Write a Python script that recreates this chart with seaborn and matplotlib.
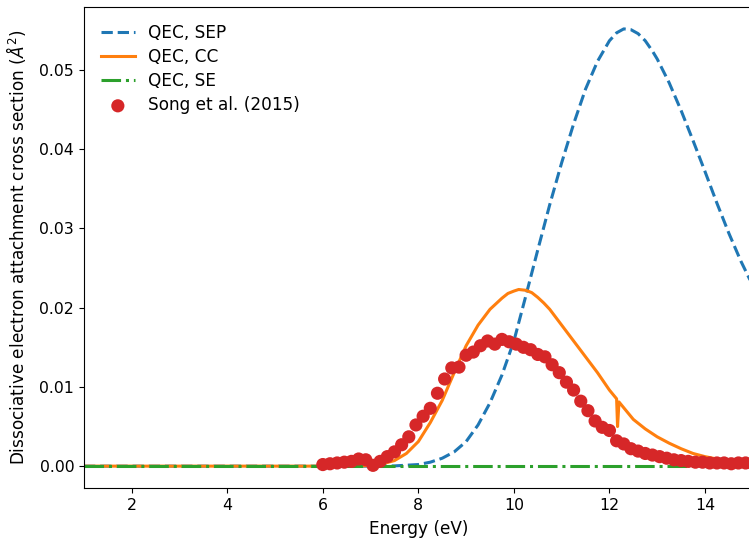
import matplotlib
matplotlib.use("Agg")
import matplotlib.pyplot as plt
import seaborn as sns

# ---- data ----
sep_x = [1.0, 7.0, 7.5, 8.0, 8.25, 8.5, 8.75, 9.0, 9.25, 9.5, 9.75, 10.0, 10.25,
         10.5, 10.75, 11.0, 11.25, 11.5, 11.75, 12.0, 12.15, 12.3, 12.45, 12.6,
         12.75, 12.9, 13.0, 13.25, 13.5, 13.75, 14.0, 14.25, 14.5, 14.75, 15.0]
sep_y = [0.0, 0.0, 0.00003, 0.0002, 0.0005, 0.0010, 0.0018, 0.0031, 0.0052,
         0.0080, 0.0115, 0.0158, 0.0215, 0.0273, 0.0330, 0.0383, 0.0432, 0.0476,
         0.0511, 0.0537, 0.0547, 0.0552, 0.0551, 0.0546, 0.0537, 0.0524, 0.0514,
         0.0484, 0.0449, 0.0411, 0.0372, 0.0332, 0.0294, 0.0259, 0.0228]

cc_x = [1.0, 6.75, 7.0, 7.25, 7.5, 7.75, 8.0, 8.25, 8.5, 8.75, 9.0, 9.25, 9.5, 9.75,
        9.875, 10.0, 10.1, 10.25, 10.375, 10.5, 10.625, 10.75, 11.0, 11.25, 11.5,
        11.75, 12.0, 12.15, 12.17, 12.2, 12.5, 12.75, 13.0, 13.25, 13.5, 13.75,
        14.0, 14.25, 14.5, 15.0]
cc_y = [0.0, 0.0, 0.0001, 0.0003, 0.0007, 0.0016, 0.0031, 0.0055, 0.0083, 0.0118,
        0.0152, 0.0178, 0.0198, 0.0212, 0.0218, 0.0221, 0.0223, 0.0222, 0.0219,
        0.0213, 0.0206, 0.0198, 0.0178, 0.0158, 0.0138, 0.0118, 0.0096, 0.0085,
        0.0050, 0.0081, 0.0059, 0.0047, 0.0037, 0.0029, 0.0022, 0.0016, 0.0012,
        0.0009, 0.0007, 0.0004]

se_x = [1.0, 15.0]
se_y = [0.0, 0.0]

song_x = [6.00, 6.15, 6.30, 6.45, 6.60, 6.75, 6.90, 7.05, 7.20, 7.35, 7.50, 7.65,
          7.80, 7.95, 8.10, 8.25, 8.40, 8.55, 8.70, 8.85, 9.00, 9.15, 9.30, 9.45,
          9.60, 9.75, 9.90, 10.05, 10.20, 10.35, 10.50, 10.65, 10.80, 10.95,
          11.10, 11.25, 11.40, 11.55, 11.70, 11.85, 12.00, 12.15, 12.30, 12.45,
          12.60, 12.75, 12.90, 13.05, 13.20, 13.35, 13.50, 13.65, 13.80, 13.95,
          14.10, 14.25, 14.40, 14.55, 14.70, 14.85, 15.00]
song_y = [0.0002, 0.0003, 0.0004, 0.0005, 0.0006, 0.0009, 0.0008, 0.0001, 0.0006,
          0.0012, 0.0018, 0.0027, 0.0037, 0.0052, 0.0063, 0.0073, 0.0092, 0.0110,
          0.0124, 0.0125, 0.0140, 0.0144, 0.0152, 0.0158, 0.0154, 0.0160, 0.0157,
          0.0154, 0.0150, 0.0147, 0.0141, 0.0138, 0.0128, 0.0118, 0.0106, 0.0096,
          0.0082, 0.0070, 0.0057, 0.0049, 0.0045, 0.0032, 0.0028, 0.0022, 0.0019,
          0.0016, 0.0014, 0.0012, 0.0010, 0.0008, 0.0007, 0.0006, 0.0005, 0.0005,
          0.0004, 0.0004, 0.0004, 0.0003, 0.0004, 0.0004, 0.0003]

x_ticks = [2, 4, 6, 8, 10, 12, 14]
y_ticks = [0.0, 0.01, 0.02, 0.03, 0.04, 0.05]
y_tick_labels = ['0.00', '0.01', '0.02', '0.03', '0.04', '0.05']

plt.rcParams['font.family'] = ['DejaVu Sans']
plt.rcParams['font.size'] = 12.2

fig = plt.figure(figsize=(7.49, 5.40), dpi=100)
ax = fig.add_axes([0.1121, 0.0963, 1.005 - 0.1121, 0.987 - 0.0963])

sns.lineplot(x=sep_x, y=sep_y, ax=ax, color='#1f77b4', linestyle='--', lw=2.2,
             label='QEC, SEP', sort=False)
sns.lineplot(x=cc_x, y=cc_y, ax=ax, color='#ff7f0e', linestyle='-', lw=2.2,
             label='QEC, CC', sort=False)
sns.lineplot(x=se_x, y=se_y, ax=ax, color='#2ca02c', linestyle='-.', lw=2.2,
             label='QEC, SE', sort=False)
sns.scatterplot(x=song_x, y=song_y, ax=ax, color='#d62728', s=90, edgecolor='none',
                label='Song et al. (2015)', zorder=3)

ax.set_xlim(1, 15)
ax.set_ylim(-0.00276, 0.05796)
ax.set_xticks(x_ticks)
ax.set_yticks(y_ticks)
ax.set_yticklabels(y_tick_labels)
ax.set_xlabel('Energy (eV)', labelpad=5)
ax.set_ylabel(r'Dissociative electron attachment cross section ($\AA^2$)', labelpad=8)
ax.tick_params(labelsize=11.3)
ax.spines['right'].set_visible(False)

ax.legend(loc='upper left', frameon=False, fontsize=12.2, handlelength=2.0,
          borderaxespad=0.6, labelspacing=0.36)

fig.savefig('out.png', dpi=100)
